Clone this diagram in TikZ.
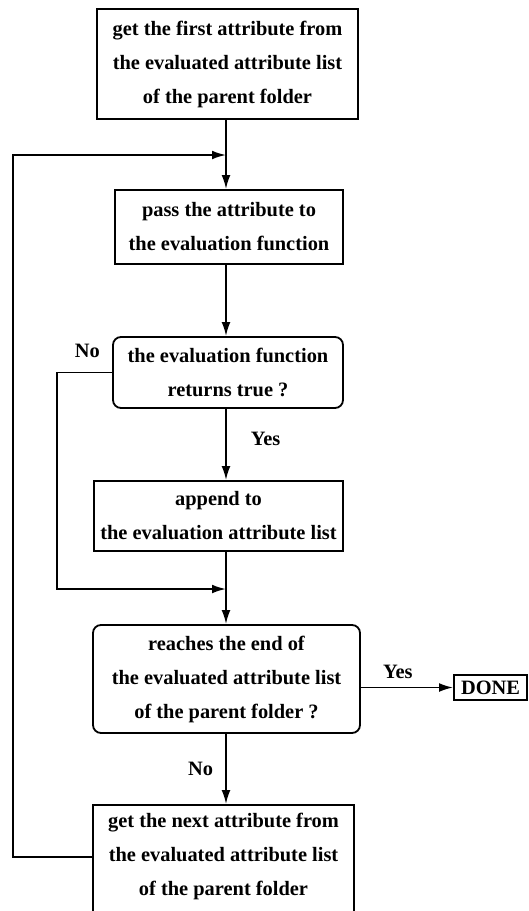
\documentclass[tikz,border=0pt]{standalone}
\usepackage{fontspec}
\setmainfont{Liberation Serif}
\usetikzlibrary{arrows.meta}
\begin{document}
\begin{tikzpicture}[x=0.5pt,y=-0.5pt,
  every node/.style={font=\bfseries\fontsize{10.2}{17}\selectfont},
  box/.style={draw, line width=0.9pt, align=center, inner sep=0pt},
  test/.style={box, rounded corners=4pt},
  flow/.style={line width=0.9pt, -{Latex[length=7pt,width=4.4pt]}},
  lbl/.style={inner sep=0pt}]
\useasboundingbox (0,0) rectangle (529,911);
\clip (0,0) rectangle (529,911);

% process and test boxes
\node[box, minimum width=130.5pt, minimum height=55pt] (first) at (227.5,64)
  {get the first attribute from\\the evaluated attribute list\\of the parent folder};
\node[box, minimum width=114pt, minimum height=37pt] (pass) at (229,227)
  {pass the attribute to\\the evaluation function};
\node[test, minimum width=115pt, minimum height=35.5pt] (eval) at (228,372.5)
  {the evaluation function\\returns true ?};
\node[box, minimum width=124.5pt, minimum height=35pt] (append) at (218.5,516)
  {append to\\the evaluation attribute list};
\node[test, minimum width=133.5pt, minimum height=54pt] (last) at (226.5,679)
  {reaches the end of\\the evaluated attribute list\\of the parent folder ?};
\node[box, minimum width=36.5pt, minimum height=12.5pt] (done) at (490.5,687.5) {DONE};
% the last box runs past the lower edge of the page
\node[box, minimum width=130.5pt, minimum height=62pt] (next) at (223.5,867) {};
\node[align=center, inner sep=0pt] (nexttext) at (223.5,856)
  {get the next attribute from\\the evaluated attribute list\\of the parent folder};

% guide coordinates for the trunk and the return paths
\coordinate (spine) at (226,0);
\coordinate (loopx) at (13,0);
\coordinate (skipx) at (57,0);
\coordinate (loopin) at (226,155);
\coordinate (skipin) at (226,589);
\coordinate (loopout) at (93,857);

% main flow
\draw[flow] (first.south -| spine) -- (pass.north -| spine);
\draw[flow] (pass.south -| spine) -- (eval.north -| spine);
\draw[flow] (eval.south -| spine) -- node[lbl, right=12pt, pos=0.42] {Yes} (append.north -| spine);
\draw[flow] (append.south -| spine) -- (last.north -| spine);
\draw[flow] (last.south -| spine) -- node[lbl, left=6pt, pos=0.5] {No} (next.north -| spine);
\draw[flow] (last.east |- done.west) -- node[lbl, above=4pt, pos=0.4] {Yes} (done.west);

% false branch skips the append step
\draw[flow] (eval.west) -- node[lbl, above=7pt, pos=0.45] {No} (eval.west -| skipx) |- (skipin);

% loop back to the evaluation of the next attribute
\draw[flow] (loopout) -- (loopout -| loopx) |- (loopin);
\end{tikzpicture}
\end{document}
